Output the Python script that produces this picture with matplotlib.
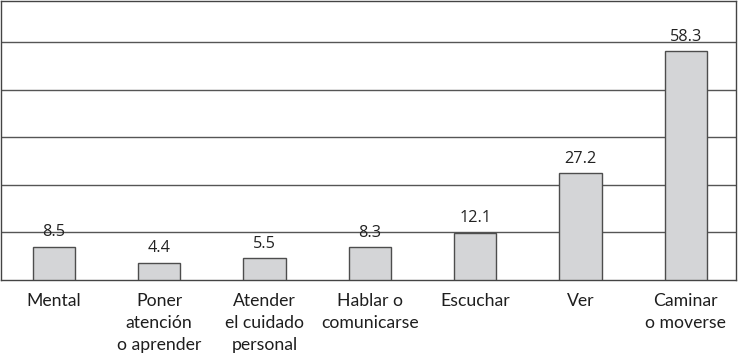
import matplotlib
matplotlib.use('Agg')
import matplotlib.pyplot as plt
import numpy as np

categorias = ['Mental', 'Poner\natención\no aprender', 'Atender\nel cuidado\npersonal',
              'Hablar o\ncomunicarse', 'Escuchar', 'Ver', 'Caminar\no moverse']
valores = [8.5, 4.4, 5.5, 8.3, 12.1, 27.2, 58.3]
grid_ticks = [12.2, 24.3, 36.4, 48.5, 60.6]

fig = plt.figure(figsize=(7.39, 3.57), dpi=100)
ax = fig.add_axes([0.0015, 0.2157, 0.995, 0.7828])

x = np.arange(len(categorias))
barras = ax.bar(x, valores, width=0.4, color='#d4d5d7', edgecolor='#4d4d4d',
                linewidth=1.0, zorder=3)

# líneas horizontales
for g in grid_ticks:
    ax.axhline(g, color='#555555', linewidth=1.0, zorder=1)

ax.set_xlim(-0.5, 6.48)
ax.set_ylim(0, 71.25)
ax.set_yticks([])
ax.set_xticks([])
for s in ax.spines.values():
    s.set_color('#444444')
    s.set_linewidth(1.0)

# valores sobre las barras
for barra, valor in zip(barras, valores):
    ax.text(barra.get_x() + barra.get_width() / 2, valor + 1.6, f"{valor}",
            ha='center', va='bottom', fontsize=11.7, color='#222222',
            family='Open Sans', zorder=4)

# nombres abajo
for xi, nombre in zip(x, categorias):
    ax.text(xi, -3.3, nombre, ha='center', va='top', fontsize=12.7,
            color='#1e1e1e', family='Lato', linespacing=1.47,
            clip_on=False)

fig.savefig('out.png', dpi=100)
plt.close(fig)
